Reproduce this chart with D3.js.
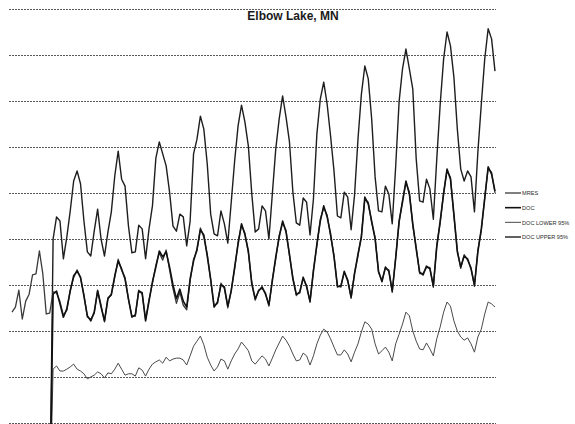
<!DOCTYPE html>
<html>
<head>
<meta charset="utf-8">
<script src="https://cdn.jsdelivr.net/npm/d3@7"></script>
<style>
	html, body { margin:0; padding:0; background:#ffffff; }
	svg { display:block; }
</style>
</head>
<body>
<div id="chart"></div>
<script>
;(function(d3){

	// -----------------------------------------------------------------
	// Monthly series, one row per year (12 values)
	var MRES = [
		14.1,15.2,18.9,12.6,16.5,18.0,22.2,22.4,27.4,22.4,13.7,13.9
		,18.5,18.3,16.4,13.4,14.5,18.9,21.6,23.3,21.5,17.9,13.0,12.6
		,13.8,18.9,15.6,12.0,17.2,17.8,21.7,25.6,23.2,21.6,16.8,13.3
		,13.2,18.9,18.0,12.5,16.8,20.4,24.3,27.0,25.4,27.6,23.3,19.2
		,16.0,18.4,15.6,14.6,21.0,25.6,27.4,32.4,30.4,26.7,21.0,15.5
		,16.0,20.4,19.2,15.0,18.9,23.5,29.3,33.0,31.3,27.0,20.6,16.7
		,18.9,19.3,18.3,15.4,21.2,25.7,30.8,33.5,31.9,26.3,21.6,17.7
		,18.6,21.4,19.9,16.2,23.3,28.5,34.3,36.8,35.2,30.7,26.5,19.5
		,19.9,22.7,21.2,17.1,22.7,26.3,30.8,38.7,38.0,33.5,30.4,22.7
		,21.0,23.6,23.3,18.4,26.0,33.5,38.4,42.2,40.2,32.9,28.2,22.5
		,22.5,23.8,23.8,19.5,28.7,33.5,40.2,44.8,43.4,35.0,27.6,23.6
		,26.6,25.4,23.8,19.7,27.6,31.8,39.1,45.3,44.5,40.0
	];

	var DOC = [
		null,null,null,null,null,null,null,null,null,null,null,-30
		,18.0,18.7,15.9,13.0,14.8,18.7,22.0,23.0,21.7,17.6,13.3,12.2
		,14.1,18.7,15.2,12.2,17.0,18.0,22.0,25.2,23.5,21.3,17.0,13.0
		,13.5,18.7,18.3,12.2,16.5,20.7,23.9,27.4,26.1,27.2,23.9,20.0
		,17.0,19.1,16.5,15.2,21.3,25.2,27.8,32.0,30.9,26.3,21.3,15.2
		,16.3,20.0,19.6,15.4,18.7,23.9,28.9,33.3,30.9,27.4,20.2,17.0
		,18.7,19.6,18.0,15.7,20.9,26.1,30.4,33.9,31.5,26.7,21.3,18.0
		,18.3,21.7,19.6,16.5,23.0,28.9,33.9,37.2,34.8,31.1,26.1,19.8
		,19.6,23.0,20.9,17.4,22.4,26.7,30.4,39.1,37.6,33.9,30.0,23.0
		,20.7,23.9,23.0,18.7,25.7,33.9,38.0,42.6,39.8,33.3,27.8,22.8
		,22.2,24.1,23.5,19.8,28.3,33.9,39.8,45.2,43.0,35.4,27.2,23.9
		,26.3,25.7,23.5,20.0,27.2,32.2,38.7,45.7,44.1,40.4
	];

	var DOC_LOWER = [
		null,null,null,null,null,null,null,null,null,null,null,-30
		,1.7,2.4,1.3,1.3,1.7,2.2,2.8,1.7,1.3,0.7,-0.4,0.0
		,0.4,1.1,0.7,-0.2,0.9,0.7,1.7,3.0,1.7,0.4,0.7,0.7
		,0.2,2.0,1.5,0.2,1.7,2.8,3.3,3.7,3.0,4.3,3.5,3.9
		,4.1,4.1,3.7,2.6,4.6,6.7,7.8,8.9,7.0,4.3,2.6,1.3
		,2.2,3.9,3.5,1.7,3.5,5.0,6.1,7.6,6.7,5.7,3.5,2.8
		,3.7,4.6,3.9,2.4,4.1,5.9,7.4,8.9,8.0,6.7,5.0,3.5
		,3.7,5.2,4.6,2.6,4.6,7.2,9.1,10.4,9.8,8.3,6.5,4.8
		,4.8,5.9,5.0,3.3,5.4,7.2,9.8,12.0,11.5,10.4,7.2,5.0
		,5.7,6.5,5.4,3.5,7.2,9.3,11.5,14.1,13.3,10.0,7.8,6.1
		,5.9,7.4,6.1,4.6,8.3,10.9,14.1,16.3,15.4,12.2,10.0,8.7
		,8.0,8.5,7.2,5.4,8.7,10.4,13.7,16.3,15.9,15.2
	];

	var DOC_UPPER = [
		null,null,null,null,null,null,null,null,null,null,null,-30
		,30.0,34.8,33.9,25.7,30.4,36.1,42.6,44.8,42.0,33.9,27.2,26.3
		,31.7,36.5,30.0,26.3,31.5,35.9,43.7,49.1,43.0,41.5,32.8,27.0
		,27.2,33.0,32.2,25.7,32.2,37.2,47.6,51.1,48.5,45.9,40.2,32.8
		,31.7,35.4,34.8,28.5,33.9,48.5,51.7,56.7,53.9,46.3,35.4,31.1
		,30.7,36.1,33.3,29.1,38.0,47.0,54.6,59.1,55.4,50.2,39.8,31.5
		,32.2,37.2,36.1,30.0,39.8,49.6,56.1,61.1,56.5,51.1,40.2,33.5
		,33.0,38.9,38.0,30.9,38.7,52.8,60.4,64.1,59.3,52.4,44.8,35.0
		,34.6,40.2,39.1,32.0,39.6,51.7,61.5,67.6,64.8,56.1,43.5,36.1
		,35.9,41.5,39.8,33.3,45.7,59.8,67.0,71.3,67.0,62.6,47.4,38.3
		,38.0,43.0,40.9,34.3,47.4,59.3,69.1,75.0,72.0,65.2,53.9,45.2
		,42.6,44.8,43.5,35.9,48.9,59.3,69.1,75.7,73.5,66.5
	];

	// gridline values (no labels are shown on the chart)
	var gridValues = [-10,0,10,20,30,40,50,60,70,80];

	var title = 'Elbow Lake, MN';

	var legendNames = ['MRES','DOC','DOC LOWER 95%','DOC UPPER 95%'];

	// -----------------------------------------------------------------
	var width = 575;
	var height = 424;

	var styles = {
		'MRES': { stroke:'#3a3a3a', width:1.3 }
		,'DOC': { stroke:'#111111', width:1.6 }
		,'DOC LOWER 95%': { stroke:'#4a4a4a', width:1 }
		,'DOC UPPER 95%': { stroke:'#1e1e1e', width:1.4 }
	};

	var seriesByName = {
		'MRES': MRES
		,'DOC': DOC
		,'DOC LOWER 95%': DOC_LOWER
		,'DOC UPPER 95%': DOC_UPPER
	};

	// draw order, DOC on top
	var drawOrder = ['DOC LOWER 95%','DOC UPPER 95%','MRES','DOC'];

	var svg = d3.select('#chart')
		.append('svg')
		.attr('width',width)
		.attr('height',height)
		.style('font-family','"Liberation Sans", Arial, sans-serif')
		;

	var x = d3.scaleLinear()
		.domain([0, MRES.length-1])
		.range([12, 495])
		;

	var y = d3.scaleLinear()
		.domain([-10, 80])
		.range([423, 9])
		;

	// Gridlines
	var grid = svg.append('g')
		.attr('class','grid')
		.attr('transform','translate(9,0)')
		.call(d3.axisLeft(y)
			.tickValues(gridValues)
			.tickSize(-487)
			.tickFormat('')
		)
		;
	grid.select('.domain').remove();
	grid.selectAll('line')
		.attr('stroke','#5a5a5a')
		.attr('stroke-width',1)
		.attr('stroke-dasharray','2,1')
		;

	// Title
	svg.append('text')
		.attr('x',293)
		.attr('y',19.5)
		.attr('text-anchor','middle')
		.attr('font-size','12px')
		.attr('font-weight','bold')
		.attr('fill','#1a1a1a')
		.text(title)
		;

	// Lines
	var line = d3.line()
		.defined(function(d){ return d !== null; })
		.x(function(d,i){ return x(i); })
		.y(function(d){ return y(d); })
		;

	var lines = svg.append('g')
		.attr('class','lines');

	lines.selectAll('path')
		.data(drawOrder)
		.enter()
		.append('path')
		.attr('d',function(name){ return line(seriesByName[name]); })
		.attr('fill','none')
		.attr('stroke',function(name){ return styles[name].stroke; })
		.attr('stroke-width',function(name){ return styles[name].width; })
		.attr('stroke-linejoin','round')
		;

	// Legend
	var legendY = d3.scalePoint()
		.domain(legendNames)
		.range([193, 237])
		;

	var legend = svg.append('g')
		.attr('class','legend');

	var items = legend.selectAll('g')
		.data(legendNames)
		.enter()
		.append('g')
		.attr('transform',function(d){ return 'translate(505,'+legendY(d)+')'; })
		;

	items.append('line')
		.attr('x1',0)
		.attr('x2',16)
		.attr('y1',0)
		.attr('y2',0)
		.attr('stroke',function(d){ return styles[d].stroke; })
		.attr('stroke-width',function(d){ return styles[d].width; })
		;

	// small font so the long names stay inside the picture
	items.append('text')
		.attr('x',17)
		.attr('y',2.2)
		.attr('font-size','5.6px')
		.attr('fill','#2a2a2a')
		.text(function(d){ return d; })
		;

})(d3);
</script>
</body>
</html>
